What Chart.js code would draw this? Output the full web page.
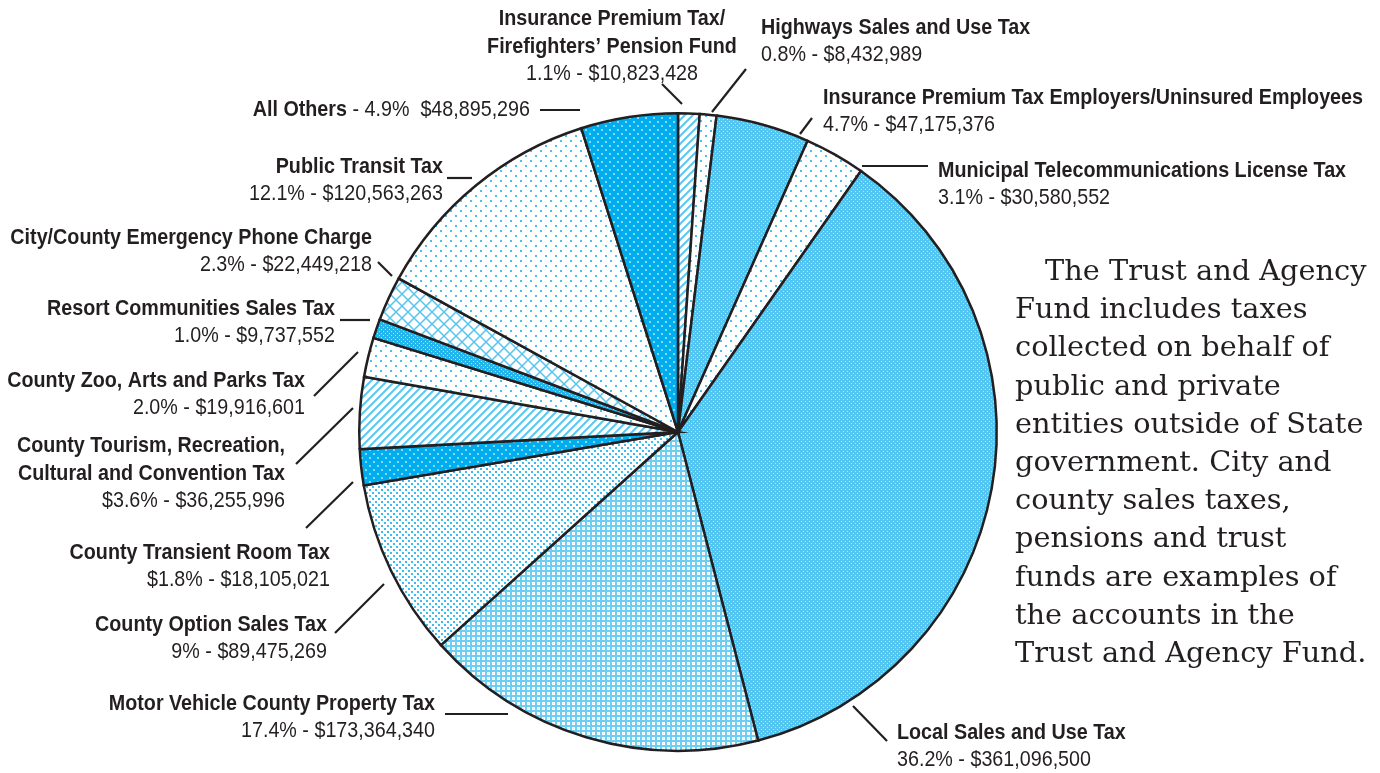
<!DOCTYPE html>
<html lang="en">
<head>
    <meta charset="UTF-8">
    <title>Trust and Agency Fund</title>
    <script src="https://cdn.jsdelivr.net/npm/chart.js@4.4.0/dist/chart.umd.min.js"></script>
    <style>
        html, body { margin: 0; padding: 0; background: #fff; }
        #wrap { position: relative; width: 1380px; height: 773px; overflow: hidden; }
        #note {
            position: absolute; left: 1015px; top: 251px; width: 370px;
            font-family: "DejaVu Serif", "Liberation Serif", serif;
            font-size: 28.8px; line-height: 38.2px; color: #231f20; white-space: nowrap;
        }
        #note .first { padding-left: 30px; }
    </style>
</head>
<body>
<div id="wrap">
    <canvas id="chart" width="1380" height="773"></canvas>
    <div id="note">
        <span class="first">The Trust and Agency</span><br>
        Fund includes taxes<br>
        collected on behalf of<br>
        public and private<br>
        entities outside of State<br>
        government. City and<br>
        county sales taxes,<br>
        pensions and trust<br>
        funds are examples of<br>
        the accounts in the<br>
        Trust and Agency Fund.
    </div>
</div>

<script>
    // slices, clockwise from 12 o'clock
    const categories = [
        ['Insurance Premium Tax/', 'Firefighters\u2019 Pension Fund'],
        ['Highways Sales and Use Tax'],
        ['Insurance Premium Tax Employers/Uninsured Employees'],
        ['Municipal Telecommunications License Tax'],
        ['Local Sales and Use Tax'],
        ['Motor Vehicle County Property Tax'],
        ['County Option Sales Tax'],
        ['County Transient Room Tax'],
        ['County Tourism, Recreation,', 'Cultural and Convention Tax'],
        ['County Zoo, Arts and Parks Tax'],
        ['Resort Communities Sales Tax'],
        ['City/County Emergency Phone Charge'],
        ['Public Transit Tax'],
        ['All Others']
    ];
    const amounts = [10823428, 8432989, 47175376, 30580552, 361096500, 173364340, 89475269,
        18105021, 36255996, 19916601, 9737552, 22449218, 120563263, 48895296];
    const percentText = ['1.1%', '0.8%', '4.7%', '3.1%', '36.2%', '17.4%', '9%',
        '$1.8%', '$3.6%', '2.0%', '1.0%', '2.3%', '12.1%', '4.9%'];
    const fills = ['stripes', 'sparseDots', 'fineGrid', 'sparseDots', 'fineGrid', 'crossGrid', 'denseDots',
        'blueDots', 'stripes', 'sparseDots', 'blueGrid', 'diamond', 'sparseDots', 'blueDots'];

    // label placement: text anchor, alignment, leader line
    const labelLayout = [
        {x: 612, y: 19, align: 'center', line: [662, 84, 682, 104]},
        {x: 761, y: 28, align: 'left', line: [746, 69, 712, 112]},
        {x: 823, y: 98, align: 'left', line: [812, 118, 800, 134]},
        {x: 938, y: 171, align: 'left', line: [862, 166, 928, 166]},
        {x: 897, y: 733, align: 'left', line: [853, 706, 887, 741]},
        {x: 435, y: 704, align: 'right', line: [445, 714, 508, 714]},
        {x: 327, y: 625, align: 'right', line: [335, 633, 384, 584]},
        {x: 330, y: 553, align: 'right', line: [306, 528, 353, 482]},
        {x: 285, y: 446, align: 'right', line: [296, 464, 353, 408]},
        {x: 305, y: 381, align: 'right', line: [314, 396, 358, 352]},
        {x: 335, y: 309, align: 'right', line: [340, 320, 370, 320]},
        {x: 372, y: 238, align: 'right', line: [378, 262, 392, 276]},
        {x: 443, y: 167, align: 'right', line: [447, 178, 472, 178]},
        {x: 530, y: 110, align: 'inline', line: [540, 110, 580, 110]}
    ];

    const INK = '#231f20';
    const BOLD = 'bold 22px "Liberation Sans", Arial, sans-serif';
    const REG = '22.5px "Liberation Sans", Arial, sans-serif';

    function makePattern(kind) {
        const c = document.createElement('canvas');
        const g = c.getContext('2d');
        const sz = {stripes: 8, sparseDots: 10, fineGrid: 4, crossGrid: 5, denseDots: 6, blueDots: 8, blueGrid: 4, diamond: 12}[kind];
        c.width = sz; c.height = sz;
        g.fillStyle = '#fff';
        g.fillRect(0, 0, sz, sz);
        if (kind === 'stripes') {
            g.strokeStyle = '#5cc8f0'; g.lineWidth = 2;
            g.beginPath();
            g.moveTo(-1, 9); g.lineTo(9, -1);
            g.moveTo(-1, 1); g.lineTo(1, -1);
            g.moveTo(7, 9); g.lineTo(9, 7);
            g.stroke();
        } else if (kind === 'sparseDots') {
            g.fillStyle = '#45c2ef';
            g.fillRect(0, 0, 2, 2); g.fillRect(5, 5, 2, 2);
        } else if (kind === 'denseDots') {
            g.fillStyle = '#3cbdf0';
            g.fillRect(0, 0, 2, 2); g.fillRect(3, 3, 2, 2);
        } else if (kind === 'fineGrid') {
            g.fillStyle = '#52c6f2';
            g.fillRect(0, 0, sz, sz);
            g.fillStyle = '#b8e7fa';
            g.fillRect(1, 1, 1, 1); g.fillRect(3, 3, 1, 1);
        } else if (kind === 'crossGrid') {
            g.fillStyle = '#6ccef3';
            g.fillRect(0, 0, sz, 2); g.fillRect(0, 0, 2, sz);
            g.fillStyle = '#d6f2fc';
            g.fillRect(3, 3, 1, 1);
        } else if (kind === 'blueDots') {
            g.fillStyle = '#00aeef';
            g.fillRect(0, 0, sz, sz);
            g.fillStyle = '#86d8f6';
            g.fillRect(1, 1, 2, 2); g.fillRect(5, 5, 2, 2);
        } else if (kind === 'blueGrid') {
            g.fillStyle = '#22b6ef';
            g.fillRect(0, 0, sz, sz);
            g.fillStyle = '#a8e2f8';
            g.fillRect(1, 1, 1, 1); g.fillRect(3, 3, 1, 1);
        } else if (kind === 'diamond') {
            g.strokeStyle = '#55c5ee'; g.lineWidth = 1.5;
            g.beginPath();
            g.moveTo(0, 0); g.lineTo(12, 12);
            g.moveTo(12, 0); g.lineTo(0, 12);
            g.stroke();
        }
        return g.createPattern(c, 'repeat');
    }

    const money = v => '$' + v.toLocaleString('en-US');

    // condensed look: squeeze the text horizontally to the width it has in the original
    function squeeze(ctx, font, sample, target) {
        ctx.font = font;
        return target / ctx.measureText(sample).width;
    }

    function drawText(ctx, str, x, y, font, align, sx) {
        ctx.save();
        ctx.font = font;
        ctx.textAlign = align;
        ctx.translate(x, y);
        ctx.scale(sx, 1);
        ctx.fillText(str, 0, 0);
        ctx.restore();
    }

    const labelPlugin = {
        id: 'sliceLabels',
        afterDraw(chart) {
            const ctx = chart.ctx;
            ctx.save();
            ctx.strokeStyle = INK;
            ctx.fillStyle = INK;
            ctx.lineWidth = 2.2;
            ctx.textBaseline = 'middle';
            const sxB = squeeze(ctx, BOLD, 'Insurance Premium Tax Employers/Uninsured Employees', 540);
            const sxR = squeeze(ctx, REG, '36.2% - $361,096,500', 194);
            labelLayout.forEach((L, i) => {
                const [x1, y1, x2, y2] = L.line;
                ctx.beginPath();
                ctx.moveTo(x1, y1);
                ctx.lineTo(x2, y2);
                ctx.stroke();

                const valueLine = percentText[i] + ' - ' + money(amounts[i]);
                if (L.align === 'inline') {
                    const tail = ' - ' + percentText[i] + '  ' + money(amounts[i]);
                    ctx.font = REG;
                    const wTail = ctx.measureText(tail).width * sxR;
                    drawText(ctx, tail, L.x, L.y, REG, 'right', sxR);
                    drawText(ctx, categories[i][0], L.x - wTail, L.y, BOLD, 'right', sxB);
                    return;
                }
                let y = L.y;
                categories[i].forEach(t => {
                    drawText(ctx, t, L.x, y, BOLD, L.align, sxB);
                    y += 28;
                });
                y -= 1.5;
                drawText(ctx, valueLine, L.x, y, REG, L.align, sxR);
            });
            ctx.restore();
        }
    };

    new Chart(document.getElementById('chart'), {
        type: 'pie',
        data: {
            labels: categories.map(c => c.join(' ')),
            datasets: [{
                data: amounts,
                backgroundColor: fills.map(makePattern),
                borderColor: INK,
                borderWidth: 2.5,
                borderJoinStyle: 'miter'
            }]
        },
        options: {
            responsive: false,
            animation: false,
            layout: {padding: {left: 358, right: 382, top: 112, bottom: 21}},
            plugins: {
                legend: {display: false},
                tooltip: {enabled: false}
            }
        },
        plugins: [labelPlugin]
    });
</script>
</body>
</html>
